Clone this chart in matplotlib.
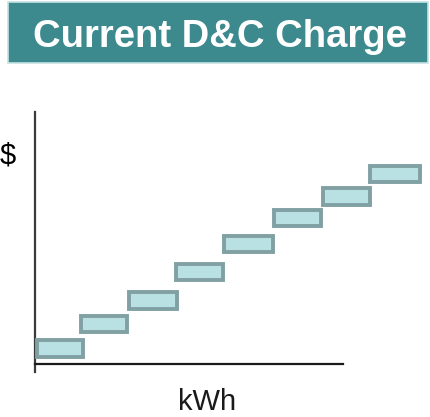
import matplotlib.pyplot as plt
from matplotlib.patches import Rectangle

plt.rcParams['font.family'] = ['Liberation Sans', 'DejaVu Sans']

# step blocks: kWh tier start/end and $ level bottom/top (arbitrary units)
tier_start = [0.00, 0.91, 1.90, 2.87, 3.86, 4.89, 5.90, 6.87]
tier_end = [1.03, 1.94, 2.97, 3.92, 4.95, 5.94, 6.95, 7.98]
rate_low = [0.21, 1.25, 2.21, 3.42, 4.58, 5.67, 6.54, 7.50]
rate_high = [1.08, 2.08, 3.08, 4.25, 5.42, 6.50, 7.42, 8.33]

title = 'Current D&C Charge'
x_label = 'kWh'
y_label = '$'

W, H = 430, 417
fig = plt.figure(figsize=(W / 100, H / 100), dpi=100)

# title banner
fig.patches.append(Rectangle((8 / W, 1 - 63 / H), 1 - 10 / W, 61 / H,
                             transform=fig.transFigure, facecolor='#3c8a8e',
                             edgecolor='#c6e2e4', linewidth=1.2))
fig.text(220 / W, 1 - 47 / H, title, color='white', fontsize=27.5,
         fontweight='bold', ha='center', va='baseline')

ax = fig.add_axes([35 / W, 1 - 372 / H, 388 / W, 260 / H])
ax.set_xlim(0, 8)
ax.set_ylim(-1 / 3, 10.5)
ax.axis('off')

for x0, x1, y0, y1 in zip(tier_start, tier_end, rate_low, rate_high):
    ax.add_patch(Rectangle((x0 + 0.035, y0 + 0.07), x1 - x0 - 0.07, y1 - y0 - 0.14,
                           facecolor='#b9e0e3', edgecolor='#80a0a3',
                           linewidth=2.8, zorder=3, clip_on=False))

ax.plot([0, 0], [-1 / 3, 10.5], color='#3a3a3a', linewidth=1.6, clip_on=False)
ax.plot([0, 6.35], [0, 0], color='#1a1a1a', linewidth=1.6, clip_on=False)

fig.text(8 / W, 1 - 155 / H, y_label, fontsize=21, ha='center', va='center')
fig.text(207 / W, 1 / H, x_label, fontsize=21, ha='center', va='bottom',
         color='#1a1a1a')

fig.savefig('out.png', dpi=100)
